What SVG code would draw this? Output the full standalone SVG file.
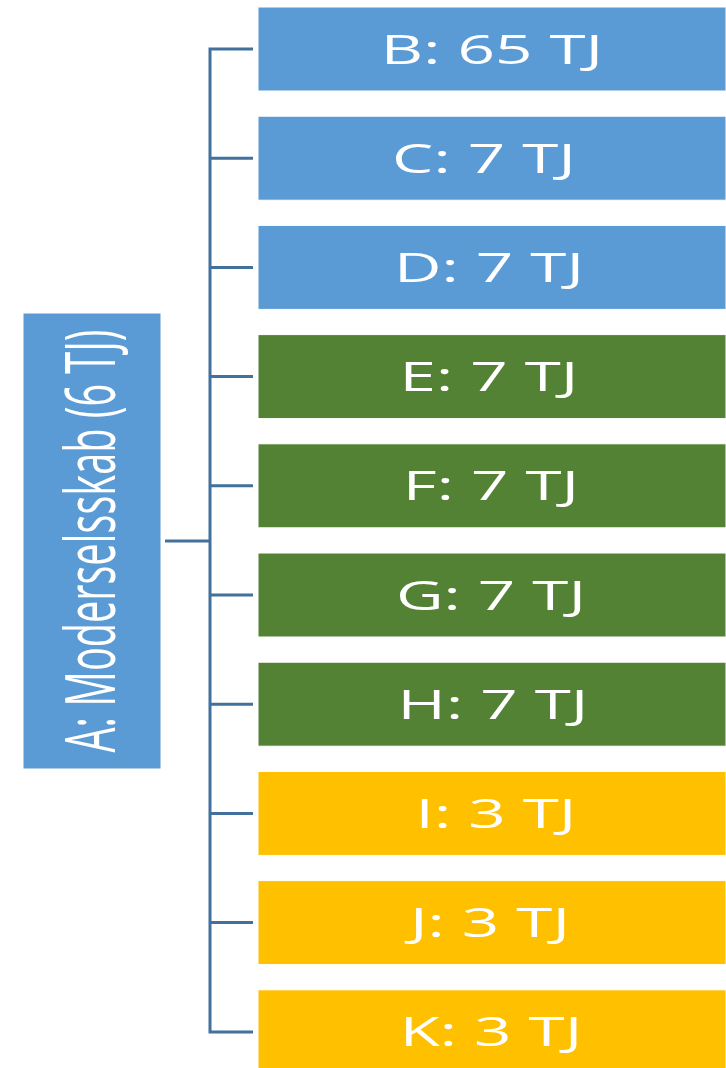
<svg xmlns="http://www.w3.org/2000/svg" width="726" height="1068" viewBox="0 0 726 1068">
<style>
.blue{fill:#5B9BD5;stroke:#ffffff;stroke-width:1}
.green{fill:#548235;stroke:#ffffff;stroke-width:1}
.gold{fill:#FFC000;stroke:#ffffff;stroke-width:1}
.lbl{font-family:"Open Sans","Liberation Sans",sans-serif;font-size:40px;fill:#ffffff;text-anchor:middle}
.root{font-family:"Open Sans","Liberation Sans",sans-serif;font-size:70px;fill:#ffffff;text-anchor:middle}
.conn{fill:none;stroke:#41719C;stroke-width:3}
</style>
<rect width="726" height="1068" fill="#ffffff"/>
<g id="connectors">
<path class="conn" d="M165 541 H210 M253 49 H210 V1032 H253 M210 158.2 H253 M210 267.4 H253 M210 376.6 H253 M210 485.8 H253 M210 595 H253 M210 704.2 H253 M210 813.4 H253 M210 922.6 H253"/>
</g>
<g id="A">
<rect class="blue" x="23" y="313" width="138" height="456"/>
<text class="root" transform="translate(115,541) rotate(-90)" textLength="423" lengthAdjust="spacingAndGlyphs">A: Moderselsskab (6 TJ)</text>
</g>
<g id="B"><rect class="blue" x="258" y="7" width="468" height="84"/><text class="lbl" transform="translate(492,63.5) scale(1.64,1)">B: 65 TJ</text></g>
<g id="C"><rect class="blue" x="258" y="116.2" width="468" height="84"/><text class="lbl" transform="translate(484,172.7) scale(1.64,1)">C: 7 TJ</text></g>
<g id="D"><rect class="blue" x="258" y="225.4" width="468" height="84"/><text class="lbl" transform="translate(489,281.9) scale(1.64,1)">D: 7 TJ</text></g>
<g id="E"><rect class="green" x="258" y="334.6" width="468" height="84"/><text class="lbl" transform="translate(489,391.1) scale(1.64,1)">E: 7 TJ</text></g>
<g id="F"><rect class="green" x="258" y="443.8" width="468" height="84"/><text class="lbl" transform="translate(491,500.3) scale(1.64,1)">F: 7 TJ</text></g>
<g id="G"><rect class="green" x="258" y="553" width="468" height="84"/><text class="lbl" transform="translate(491,609.5) scale(1.64,1)">G: 7 TJ</text></g>
<g id="H"><rect class="green" x="258" y="662.2" width="468" height="84"/><text class="lbl" transform="translate(493,718.7) scale(1.64,1)">H: 7 TJ</text></g>
<g id="I"><rect class="gold" x="258" y="771.4" width="468" height="84"/><text class="lbl" transform="translate(496,827.9) scale(1.64,1)">I: 3 TJ</text></g>
<g id="J"><rect class="gold" x="258" y="880.6" width="468" height="84"/><text class="lbl" transform="translate(490,937.1) scale(1.64,1)">J: 3 TJ</text></g>
<g id="K"><rect class="gold" x="258" y="989.8" width="468" height="84"/><text class="lbl" transform="translate(491,1046.3) scale(1.64,1)">K: 3 TJ</text></g>
</svg>
